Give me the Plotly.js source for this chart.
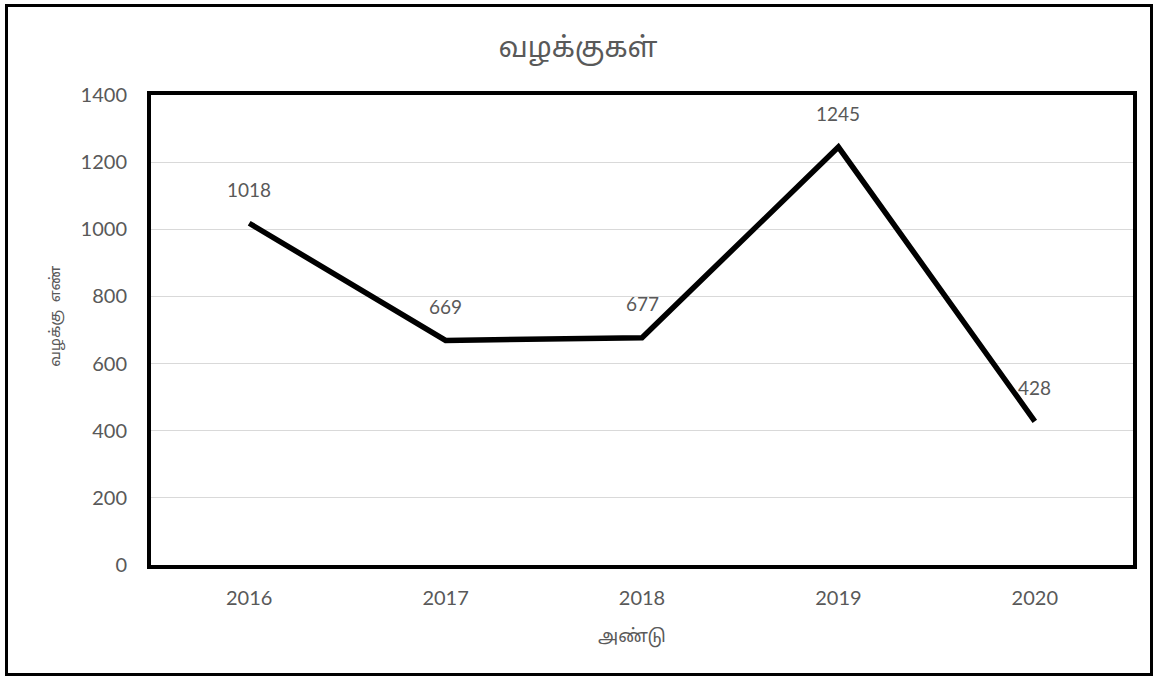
<!DOCTYPE html>
<html>
<head>
<meta charset="utf-8">
<script src="https://cdn.plot.ly/plotly-3.0.1.min.js"></script>
<style>
html,body{margin:0;padding:0;background:#fff;}
#wrap{position:relative;width:1156px;height:677px;}
#chart{position:absolute;left:0;top:0;width:1156px;height:677px;}
#frame{position:absolute;left:5px;top:4px;width:1142px;height:666px;border:3px solid #000;pointer-events:none;}
</style>
</head>
<body>
<div id="wrap"><div id="chart"></div><div id="frame"></div></div>
<script>
const years = ['2016', '2017', '2018', '2019', '2020'];
const cases = [1018, 669, 677, 1245, 428];
const yTicks = [0, 200, 400, 600, 800, 1000, 1200, 1400];

const chartTitle = 'வழக்குகள்';
const xTitle = 'அண்டு';
const yTitle = 'வழக்கு  எண்';

const fontFam = "Lato, 'Noto Sans', 'Noto Sans Tamil', sans-serif";
const grey = '#595959';

const trace = {
  x: years,
  y: cases,
  type: 'scatter',
  mode: 'lines',
  line: {color: '#000000', width: 5.5},
  hoverinfo: 'x+y'
};

const labelAnns = years.map((yr, i) => ({
  x: i, y: cases[i], xref: 'x', yref: 'y',
  text: String(cases[i]), showarrow: false, yshift: 34,
  font: {family: fontFam, size: 19, color: grey}
}));

const titleAnns = [
  {xref: 'paper', yref: 'paper', x: 0.49, y: -0.150, xanchor: 'center', yanchor: 'middle',
   text: xTitle, showarrow: false, font: {family: fontFam, size: 18, color: grey}},
  {xref: 'paper', yref: 'paper', x: -0.097, y: 0.53, xanchor: 'center', yanchor: 'middle',
   text: yTitle, textangle: -90, showarrow: false, font: {family: fontFam, size: 15, color: grey}}
];

const layout = {
  width: 1156, height: 677,
  margin: {l: 151, r: 23, t: 95, b: 112},
  paper_bgcolor: '#ffffff',
  plot_bgcolor: '#ffffff',
  showlegend: false,
  title: {text: chartTitle, font: {family: fontFam, size: 28, color: grey}, x: 0.5, xanchor: 'center', y: 0.93, yanchor: 'middle'},
  xaxis: {
    type: 'category',
    range: [-0.5, 4.5],
    showline: true, linecolor: '#000', linewidth: 4, mirror: true,
    showgrid: false, zeroline: false,
    ticks: '', ticklabelstandoff: 12,
    tickfont: {family: fontFam, size: 20, color: grey}
  },
  yaxis: {
    range: [0, 1400],
    tickvals: yTicks,
    showline: true, linecolor: '#000', linewidth: 4, mirror: true,
    showgrid: true, gridcolor: '#d9d9d9', gridwidth: 1,
    zeroline: false,
    ticks: '', ticklabelstandoff: 16,
    tickfont: {family: fontFam, size: 20, color: grey}
  },
  annotations: labelAnns.concat(titleAnns)
};

Plotly.newPlot('chart', [trace], layout, {displayModeBar: false});
</script>
</body>
</html>
